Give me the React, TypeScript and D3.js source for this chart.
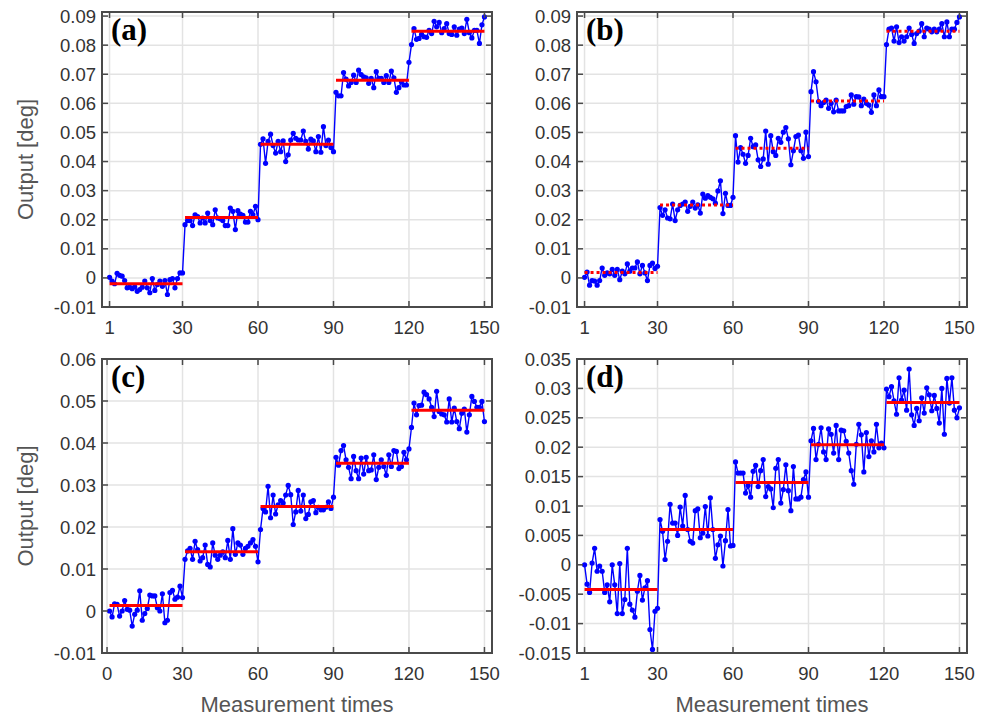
import React from "react";
import * as d3 from "d3";

const valuesA = [
  0.0002, -0.0011, -0.002, 0.0016, 0.0009, 0.0006, -0.0009, -0.0034, -0.0032, -0.0037,
  -0.0031, -0.0046, -0.004, -0.0032, -0.0011, -0.0034, -0.0051, -0.0002, -0.0043, -0.0023,
  -0.0011, -0.0029, -0.0009, -0.0057, -0.0006, -0.0002, -0.0034, -0.0002, 0.0017, 0.0017,
  0.0183, 0.0197, 0.0197, 0.018, 0.0217, 0.0211, 0.0189, 0.0206, 0.0189, 0.0223,
  0.0197, 0.0183, 0.0234, 0.0206, 0.0203, 0.0197, 0.018, 0.018, 0.024, 0.0229,
  0.0166, 0.0231, 0.0219, 0.0215, 0.0192, 0.0192, 0.0229, 0.0217, 0.0246, 0.02,
  0.0459, 0.0478, 0.0394, 0.0469, 0.0494, 0.0455, 0.0429, 0.0469, 0.0434, 0.0471,
  0.04, 0.0423, 0.0474, 0.0497, 0.048, 0.0474, 0.0474, 0.0505, 0.0469, 0.0443,
  0.0477, 0.0471, 0.0434, 0.0486, 0.0432, 0.052, 0.0455, 0.0474, 0.0448, 0.0434,
  0.0638, 0.0626, 0.0626, 0.0706, 0.0683, 0.066, 0.0672, 0.0697, 0.0672, 0.0714,
  0.0699, 0.0691, 0.0688, 0.0669, 0.0686, 0.0654, 0.0709, 0.0686, 0.0686, 0.0672,
  0.0695, 0.0672, 0.0711, 0.0688, 0.0638, 0.0654, 0.0674, 0.0663, 0.0663, 0.0741,
  0.0802, 0.0857, 0.082, 0.0823, 0.0837, 0.0829, 0.0827, 0.0851, 0.084, 0.0882,
  0.0863, 0.0878, 0.0843, 0.0857, 0.0874, 0.084, 0.0837, 0.0863, 0.0834, 0.0855,
  0.0859, 0.084, 0.0889, 0.0843, 0.0825, 0.0851, 0.0851, 0.0806, 0.087, 0.0897,
];
const valuesB = [
  0.0002, 0.002, -0.0025, -0.0009, -0.0011, -0.0025, -0.0009, 0.0034, 0.0009, 0.0017,
  0.0014, 0.0029, 0.0009, 0.0029, -0.0006, 0.0023, 0.0014, 0.0048, 0.0023, 0.0034,
  0.0034, 0.0055, 0.0014, 0.0043, 0.0017, -0.0009, 0.0043, 0.0051, 0.0032, 0.004,
  0.0242, 0.0215, 0.0234, 0.0206, 0.0203, 0.0254, 0.0197, 0.0234, 0.0249, 0.0254,
  0.0261, 0.0229, 0.0246, 0.0261, 0.024, 0.0251, 0.0223, 0.0288, 0.0274, 0.0283,
  0.0277, 0.0272, 0.0257, 0.0299, 0.0334, 0.0221, 0.0291, 0.0249, 0.0249, 0.0277,
  0.0489, 0.0398, 0.0448, 0.0425, 0.0394, 0.0421, 0.048, 0.0451, 0.0457, 0.0406,
  0.0383, 0.0409, 0.0505, 0.0391, 0.0489, 0.0434, 0.0421, 0.048, 0.0466, 0.0501,
  0.0517, 0.0478, 0.0389, 0.0437, 0.0486, 0.0491, 0.0437, 0.0411, 0.0501, 0.0417,
  0.064, 0.0709, 0.0674, 0.0606, 0.0592, 0.0603, 0.0611, 0.0583, 0.06, 0.0571,
  0.0611, 0.0574, 0.0574, 0.0574, 0.0589, 0.0592, 0.0629, 0.0597, 0.0623, 0.0622,
  0.0592, 0.0615, 0.06, 0.0594, 0.0569, 0.0629, 0.0592, 0.0646, 0.0623, 0.0623,
  0.0802, 0.0855, 0.0859, 0.0814, 0.0863, 0.0809, 0.0829, 0.0814, 0.0829, 0.0859,
  0.0837, 0.0806, 0.084, 0.0848, 0.0874, 0.0829, 0.0859, 0.0855, 0.0846, 0.0855,
  0.0846, 0.0855, 0.0874, 0.0829, 0.088, 0.0829, 0.0855, 0.0855, 0.0878, 0.0897,
];
const valuesC = [
  0, -0.0014, 0.0017, 0.0016, -0.0012, 0, 0.0025, 0.0004, 0.0002, -0.0036,
  -0.0008, 0.0002, 0.0048, -0.0022, -0.0006, 0.0006, 0.0038, 0.0036, 0.0036, 0.0008,
  0, 0.0041, -0.0028, -0.0022, 0.0044, 0.0049, 0.0028, 0.0033, 0.0059, 0.0032,
  0.0123, 0.0143, 0.0149, 0.0123, 0.0166, 0.0146, 0.0119, 0.0127, 0.0157, 0.0111,
  0.0105, 0.0162, 0.0133, 0.0123, 0.0133, 0.0141, 0.0127, 0.0168, 0.0123, 0.0196,
  0.0135, 0.0162, 0.0157, 0.0135, 0.0149, 0.0154, 0.0162, 0.017, 0.0154, 0.0117,
  0.0194, 0.0244, 0.0236, 0.0297, 0.0222, 0.0276, 0.0231, 0.0253, 0.0263, 0.0257,
  0.0276, 0.0299, 0.0277, 0.0206, 0.0236, 0.0287, 0.0238, 0.0276, 0.022, 0.023,
  0.026, 0.0263, 0.0234, 0.0247, 0.0241, 0.0241, 0.0247, 0.026, 0.0244, 0.0271,
  0.0366, 0.0347, 0.0382, 0.0394, 0.036, 0.0342, 0.0315, 0.0368, 0.0334, 0.0315,
  0.0364, 0.0326, 0.0366, 0.0334, 0.0336, 0.0372, 0.0313, 0.0342, 0.036, 0.0344,
  0.0323, 0.0372, 0.0344, 0.0382, 0.038, 0.0339, 0.0344, 0.0378, 0.036, 0.0386,
  0.0437, 0.0495, 0.0467, 0.0489, 0.049, 0.0521, 0.0515, 0.0505, 0.0485, 0.0463,
  0.0523, 0.0475, 0.0469, 0.0467, 0.045, 0.0505, 0.045, 0.0483, 0.0451, 0.0434,
  0.0471, 0.0481, 0.0426, 0.0467, 0.0511, 0.0499, 0.0485, 0.0485, 0.0499, 0.0451,
];
const valuesD = [
  0, -0.0033, -0.0047, 0.0003, 0.0028, -0.0011, -0.0002, -0.0011, -0.0047, -0.0034,
  -0.0063, 0, -0.0034, -0.0083, 0.0002, -0.0083, -0.0059, 0.0028, -0.0067, -0.0077,
  -0.0089, -0.0045, -0.0018, -0.006, -0.0039, -0.0027, -0.011, -0.0144, -0.0079, -0.0074,
  0.0077, 0.0057, 0.0009, 0.004, 0.0103, 0.0071, 0.0071, 0.005, 0.0098, 0.0066,
  0.0118, 0.006, 0.004, 0.0037, 0.0092, 0.0095, 0.0046, 0.0054, 0.0099, 0.0049,
  0.0114, 0.006, 0.0011, 0.0034, 0.0049, -0.0002, 0.0041, 0.0094, 0.0032, 0.0033,
  0.0175, 0.0156, 0.0156, 0.0156, 0.0122, 0.0135, 0.0115, 0.0159, 0.0169, 0.0133,
  0.016, 0.0179, 0.0116, 0.0133, 0.0129, 0.0097, 0.0164, 0.0179, 0.0105, 0.0128,
  0.017, 0.0126, 0.0092, 0.0167, 0.0112, 0.0112, 0.0115, 0.0145, 0.0158, 0.0115,
  0.0211, 0.0232, 0.0179, 0.0205, 0.0233, 0.0192, 0.0179, 0.0231, 0.0222, 0.019,
  0.0237, 0.0179, 0.0229, 0.0228, 0.021, 0.019, 0.016, 0.0137, 0.0205, 0.0239,
  0.0221, 0.0158, 0.0225, 0.0184, 0.0211, 0.0192, 0.0239, 0.0199, 0.0207, 0.0199,
  0.0299, 0.0286, 0.0303, 0.0279, 0.0256, 0.0318, 0.028, 0.0297, 0.0263, 0.0333,
  0.0255, 0.0237, 0.0266, 0.0245, 0.0284, 0.0258, 0.0301, 0.0289, 0.0262, 0.0288,
  0.0266, 0.0241, 0.03, 0.0222, 0.0317, 0.0275, 0.0318, 0.0263, 0.025, 0.0267,
];

// mean level of each step
const segStart = [1, 31, 61, 91, 121];
const segEnd = [30, 60, 90, 120, 150];
const meansA = [-0.002, 0.0208, 0.0459, 0.0679, 0.0848];
const meansB = [0.0019, 0.0251, 0.0446, 0.0608, 0.0848];
const meansC = [0.0013, 0.0141, 0.0249, 0.0352, 0.0478];
const meansD = [-0.0042, 0.006, 0.014, 0.0204, 0.0276];

const xTicks1 = [1, 30, 60, 90, 120, 150];
const xTicks0 = [0, 30, 60, 90, 120, 150];
const yTicksAB = [-0.01, 0, 0.01, 0.02, 0.03, 0.04, 0.05, 0.06, 0.07, 0.08, 0.09];
const yLabelsAB = ["-0.01", "0", "0.01", "0.02", "0.03", "0.04", "0.05", "0.06", "0.07", "0.08", "0.09"];
const yTicksC = [-0.01, 0, 0.01, 0.02, 0.03, 0.04, 0.05, 0.06];
const yLabelsC = ["-0.01", "0", "0.01", "0.02", "0.03", "0.04", "0.05", "0.06"];
const yTicksD = [-0.015, -0.01, -0.005, 0, 0.005, 0.01, 0.015, 0.02, 0.025, 0.03, 0.035];
const yLabelsD = ["-0.015", "-0.01", "-0.005", "0", "0.005", "0.01", "0.015", "0.02", "0.025", "0.03", "0.035"];

const sans = "'Liberation Sans', Arial, Helvetica, sans-serif";
const axisColor = "#4a4a4a";
const tickLen = 6;

type PanelProps = {
  x0: number;
  y0: number;
  w: number;
  h: number;
  values: number[];
  means: number[];
  dotted?: boolean;
  yDomain: [number, number];
  yTicks: number[];
  yLabels: string[];
  xTicks: number[];
  label: string;
  yTitle?: boolean;
  xTitle?: boolean;
};

const Panel = (p: PanelProps) => {
  const x = d3.scaleLinear().domain([-2, 153]).range([p.x0, p.x0 + p.w]);
  const y = d3.scaleLinear().domain(p.yDomain).range([p.y0 + p.h, p.y0]);
  const line = d3
    .line<number>()
    .x((d, i) => x(i + 1))
    .y(d => y(d));
  const bottom = p.y0 + p.h;
  const right = p.x0 + p.w;

  return (
    <g>
      {/* grid */}
      {p.xTicks.map(t => (
        <line key={"gx" + t} x1={x(t)} x2={x(t)} y1={p.y0} y2={bottom} stroke="#e3e3e3" strokeWidth={1.5} />
      ))}
      {p.yTicks.map(t => (
        <line key={"gy" + t} x1={p.x0} x2={right} y1={y(t)} y2={y(t)} stroke="#e3e3e3" strokeWidth={1.5} />
      ))}

      {/* data */}
      <path d={line(p.values) || ""} fill="none" stroke="#0000ff" strokeWidth={1.4} />
      {p.values.map((v, i) => (
        <circle key={i} cx={x(i + 1)} cy={y(v)} r={2.6} fill="#0000ff" />
      ))}

      {/* step means */}
      {p.means.map((m, k) => (
        <line
          key={"m" + k}
          x1={x(segStart[k])}
          x2={x(segEnd[k])}
          y1={y(m)}
          y2={y(m)}
          stroke="#ff0000"
          strokeWidth={3}
          strokeDasharray={p.dotted ? "3 3" : undefined}
        />
      ))}

      {/* ticks on all sides */}
      {p.xTicks.map(t => (
        <g key={"tx" + t}>
          <line x1={x(t)} x2={x(t)} y1={bottom} y2={bottom - tickLen} stroke={axisColor} strokeWidth={1.5} />
          <line x1={x(t)} x2={x(t)} y1={p.y0} y2={p.y0 + tickLen} stroke={axisColor} strokeWidth={1.5} />
          <text x={x(t)} y={bottom + 27} textAnchor="middle" fontFamily={sans} fontSize={18.5} fill="#333">
            {t}
          </text>
        </g>
      ))}
      {p.yTicks.map((t, i) => (
        <g key={"ty" + t}>
          <line x1={p.x0} x2={p.x0 + tickLen} y1={y(t)} y2={y(t)} stroke={axisColor} strokeWidth={1.5} />
          <line x1={right} x2={right - tickLen} y1={y(t)} y2={y(t)} stroke={axisColor} strokeWidth={1.5} />
          <text x={p.x0 - 6} y={y(t) + 6.5} textAnchor="end" fontFamily={sans} fontSize={18.5} fill="#333">
            {p.yLabels[i]}
          </text>
        </g>
      ))}
      <rect x={p.x0} y={p.y0} width={p.w} height={p.h} fill="none" stroke={axisColor} strokeWidth={2} />

      <text
        x={p.x0 + 9}
        y={p.y0 + 28}
        fontFamily="'Liberation Serif', 'Times New Roman', serif"
        fontWeight="bold"
        fontSize={31}
        fill="#000"
      >
        {p.label}
      </text>

      {p.yTitle && (
        <text
          transform={`translate(${p.x0 - 69},${p.y0 + p.h / 2}) rotate(-90)`}
          textAnchor="middle"
          fontFamily={sans}
          fontSize={22}
          fill="#555"
        >
          Output [deg]
        </text>
      )}
      {p.xTitle && (
        <text x={(p.x0 + right) / 2} y={bottom + 59} textAnchor="middle" fontFamily={sans} fontSize={22} fill="#555">
          Measurement times
        </text>
      )}
    </g>
  );
};

export default function App() {
  return (
    <svg width={987} height={716} style={{ position: "absolute", left: 0, top: 0, background: "#fff" }}>
      <Panel x0={102} y0={12} w={390} h={295} values={valuesA} means={meansA} yDomain={[-0.01, 0.0914]}
        yTicks={yTicksAB} yLabels={yLabelsAB} xTicks={xTicks1} label="(a)" yTitle />
      <Panel x0={577} y0={12} w={390} h={295} values={valuesB} means={meansB} dotted yDomain={[-0.01, 0.0914]}
        yTicks={yTicksAB} yLabels={yLabelsAB} xTicks={xTicks1} label="(b)" />
      <Panel x0={102} y0={359} w={390} h={294} values={valuesC} means={meansC} yDomain={[-0.01, 0.06]}
        yTicks={yTicksC} yLabels={yLabelsC} xTicks={xTicks0} label="(c)" yTitle xTitle />
      <Panel x0={577} y0={359} w={390} h={294} values={valuesD} means={meansD} yDomain={[-0.015, 0.035]}
        yTicks={yTicksD} yLabels={yLabelsD} xTicks={xTicks1} label="(d)" xTitle />
    </svg>
  );
}
